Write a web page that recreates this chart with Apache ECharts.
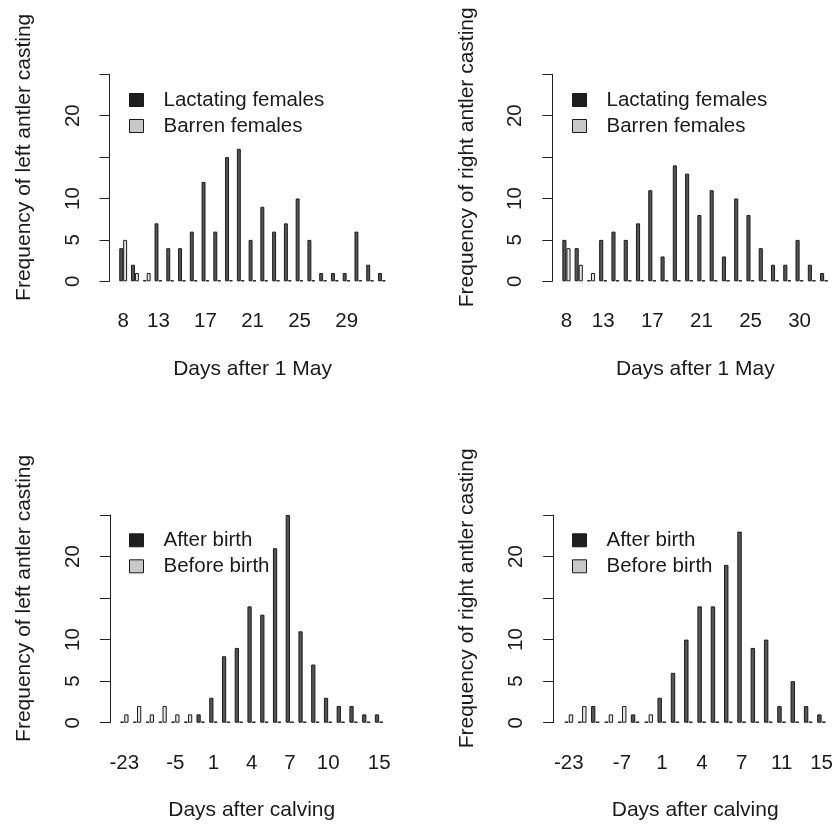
<!DOCTYPE html>
<html>
<head>
<meta charset="utf-8">
<script src="https://cdn.jsdelivr.net/npm/echarts@6/dist/echarts.min.js"></script>
<style>html,body{margin:0;padding:0;background:#fff}#c{width:836px;height:826px}</style>
</head>
<body>
<div id="c"></div>
<script>
// ---- Top-left: left antler, days after 1 May ----
const tlDays = ['8','10','11','13','14','15','16','17','18','19','20','21','22','23','24','25','26','27','28','29','30','31','32'];
const tlLactating = [4,2,0,7,4,4,6,12,6,15,16,5,9,6,7,10,5,1,1,1,6,2,1];
const tlBarren    = [5,1,1,0,0,0,0,0,0,0,0,0,0,0,0,0,0,0,0,0,0,0,0];
const tlShown = ['8','13','17','21','25','29'];

// ---- Top-right: right antler, days after 1 May ----
const trDays = ['8','10','11','13','14','15','16','17','18','19','20','21','22','23','24','25','26','27','28','30','31','32'];
const trLactating = [5,4,0,5,6,5,7,11,3,14,13,8,11,3,10,8,4,2,2,5,2,1];
const trBarren    = [4,2,1,0,0,0,0,0,0,0,0,0,0,0,0,0,0,0,0,0,0,0];
const trShown = ['8','13','17','21','25','30'];

// ---- Bottom-left: left antler, days after calving ----
const blDays = ['-23','-17','-12','-8','-5','-2','0','1','2','3','4','5','6','7','8','9','10','11','12','13','15'];
const blAfter  = [0,0,0,0,0,0,1,3,8,9,14,13,21,25,11,7,3,2,2,1,1];
const blBefore = [1,2,1,2,1,1,0,0,0,0,0,0,0,0,0,0,0,0,0,0,0];
const blShown = ['-23','-5','1','4','7','10','15'];

// ---- Bottom-right: right antler, days after calving ----
const brDays = ['-23','-20','-14','-10','-7','-4','-1','1','2','3','4','5','6','7','8','9','11','12','13','15'];
const brAfter  = [0,0,2,0,0,1,0,3,6,10,14,14,19,23,9,10,2,5,2,1];
const brBefore = [1,2,0,1,2,0,1,0,0,0,0,0,0,0,0,0,0,0,0,0];
const brShown = ['-23','-7','1','4','7','11','15'];

const yTickLabels = ['0','5','10','','20',''];
const yTitles = ['Frequency of left antler casting','Frequency of right antler casting'];
const xTitles = ['Days after 1 May','Days after calving'];
const legendTop = ['Lactating females','Barren females'];
const legendBottom = ['After birth','Before birth'];

const FONT = "'Liberation Sans', Arial, Helvetica, sans-serif";
const FS = 20.5;
const TXT = '#1a1a1a';
const DARK_BAR = '#555555', LIGHT_BAR = '#e6e6e6';
const DARK_KEY = '#1e1e1e', LIGHT_KEY = '#c8c8c8';

const panels = [
  {days: tlDays, a: tlLactating, b: tlBarren, shown: tlShown, names: legendTop, ytitle: yTitles[0], xtitle: xTitles[0],
   grid: {left: 117.3, width: 270.5, top: 74.3, height: 207}, yoff: 7.8, legend: {left: 129, top: 89.5}},
  {days: trDays, a: trLactating, b: trBarren, shown: trShown, names: legendTop, ytitle: yTitles[1], xtitle: xTitles[0],
   grid: {left: 560.3, width: 270, top: 74.3, height: 207}, yoff: 8, legend: {left: 572, top: 89.5}},
  {days: blDays, a: blAfter, b: blBefore, shown: blShown, names: legendBottom, ytitle: yTitles[0], xtitle: xTitles[1],
   grid: {left: 117.9, width: 267.6, top: 515, height: 207.7}, yoff: 7.9, legend: {left: 129, top: 529.8}},
  {days: brDays, a: brAfter, b: brBefore, shown: brShown, names: legendBottom, ytitle: yTitles[1], xtitle: xTitles[1],
   grid: {left: 562.1, width: 266.4, top: 515, height: 207.7}, yoff: 9, legend: {left: 572, top: 529.8}}
];

const option = {
  animation: false,
  backgroundColor: '#fff',
  textStyle: {fontFamily: FONT, color: TXT},
  grid: [], xAxis: [], yAxis: [], series: [], legend: []
};

panels.forEach((p, i) => {
  option.grid.push(Object.assign({containLabel: false}, p.grid));
  option.xAxis.push({
    type: 'category', gridIndex: i, data: p.days,
    axisLine: {show: false}, axisTick: {show: false},
    axisLabel: {
      interval: (idx, val) => p.shown.indexOf(val) >= 0,
      margin: 30, fontSize: FS, color: TXT, fontFamily: FONT
    },
    name: p.xtitle, nameLocation: 'middle', nameGap: 77,
    nameTextStyle: {fontSize: 21, color: TXT, fontFamily: FONT}
  });
  option.yAxis.push({
    type: 'value', gridIndex: i, min: 0, max: 25, interval: 5,
    offset: p.yoff,
    splitLine: {show: false},
    axisLine: {show: true, lineStyle: {color: '#222', width: 1}},
    axisTick: {show: true, length: 10, lineStyle: {color: '#222', width: 1}},
    axisLabel: {
      rotate: 90, margin: 26, fontSize: FS, color: TXT, fontFamily: FONT,
      formatter: (v) => yTickLabels[Math.round(v / 5)]
    },
    name: p.ytitle, nameLocation: 'middle', nameRotate: 90, nameGap: 75,
    nameTextStyle: {fontSize: 21, color: TXT, fontFamily: FONT, padding: [0, 0, 0, 41]}
  });
  option.series.push({
    name: p.names[0], type: 'bar', xAxisIndex: i, yAxisIndex: i, data: p.a,
    barGap: '0%', barCategoryGap: '33.33%', barMinHeight: 1,
    itemStyle: {color: DARK_BAR, borderColor: '#1a1a1a', borderWidth: 1}
  });
  option.series.push({
    name: p.names[1], type: 'bar', xAxisIndex: i, yAxisIndex: i, data: p.b,
    barGap: '0%', barCategoryGap: '33.33%', barMinHeight: 1,
    itemStyle: {color: LIGHT_BAR, borderColor: '#1a1a1a', borderWidth: 1}
  });
  option.legend.push({
    orient: 'vertical', left: p.legend.left, top: p.legend.top, padding: 0,
    itemWidth: 14, itemHeight: 13, itemGap: 5, icon: 'rect',
    selectedMode: false,
    textStyle: {fontSize: FS, color: TXT, fontFamily: FONT, lineHeight: 21, padding: [0, 0, 0, 15]},
    data: [
      {name: p.names[0], itemStyle: {color: DARK_KEY, borderColor: '#1a1a1a', borderWidth: 1}},
      {name: p.names[1], itemStyle: {color: LIGHT_KEY, borderColor: '#1a1a1a', borderWidth: 1}}
    ]
  });
});

const chart = echarts.init(document.getElementById('c'), null, {renderer: 'canvas'});
chart.setOption(option);
</script>
</body>
</html>
